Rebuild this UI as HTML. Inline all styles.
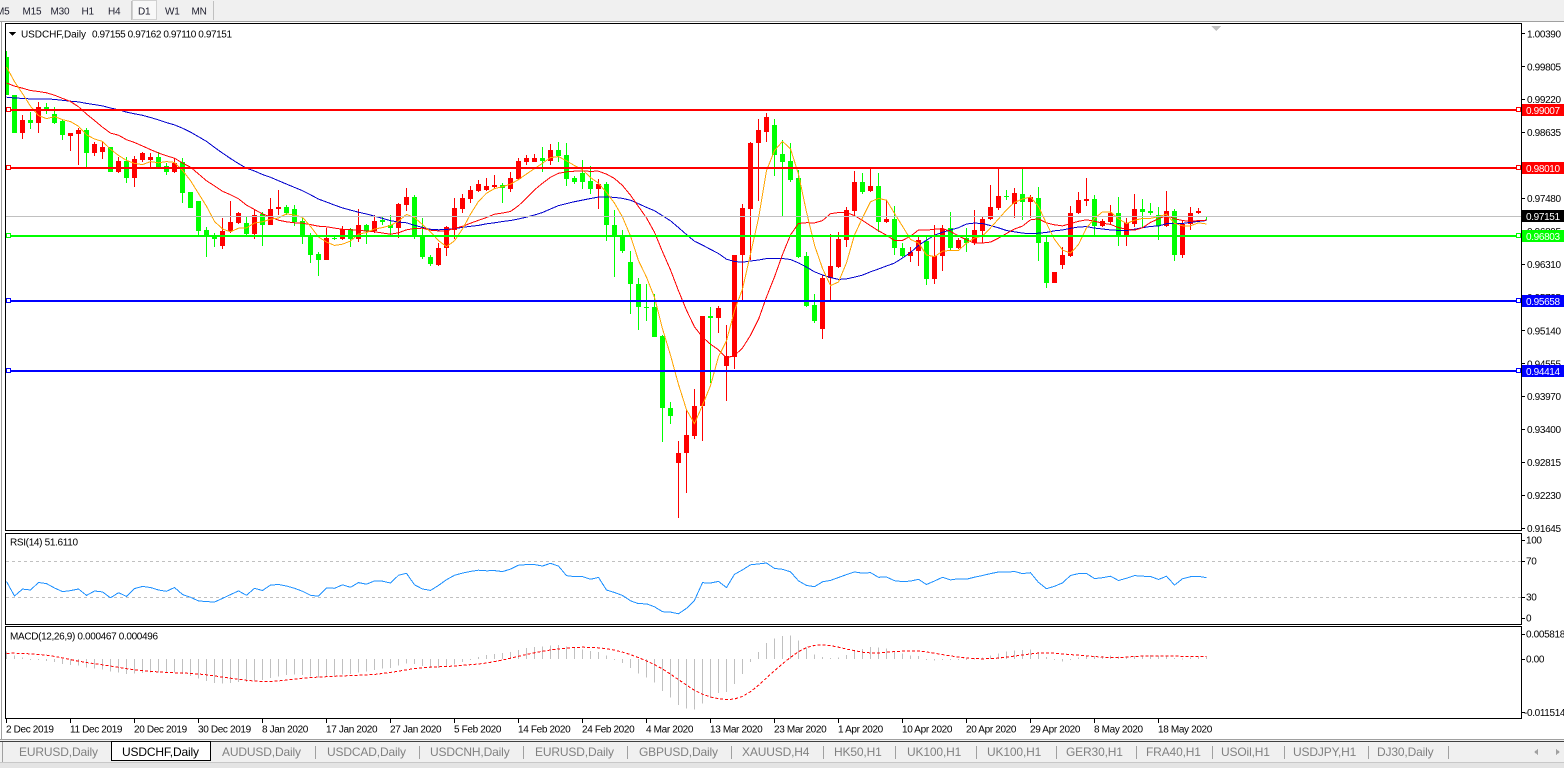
<!DOCTYPE html>
<html><head><meta charset="utf-8">
<style>
html,body{margin:0;padding:0;width:1564px;height:768px;overflow:hidden;background:#fff;}
svg{display:block}
text{font-family:"Liberation Sans",Arial,sans-serif;}
</style></head>
<body>
<svg id="s" width="1564" height="768" xmlns="http://www.w3.org/2000/svg" shape-rendering="crispEdges">
<defs>
<clipPath id="cm"><rect x="6" y="24" width="1515" height="507"/></clipPath>
<clipPath id="cr"><rect x="6" y="534" width="1515" height="90"/></clipPath>
<clipPath id="cd"><rect x="6" y="627" width="1515" height="91"/></clipPath>
</defs>
<rect x="0" y="0" width="1564" height="768" fill="#ffffff"/>
<!-- toolbar -->
<rect x="0" y="0" width="1564" height="21" fill="#f0f0f0"/>
<line x1="0" y1="21.5" x2="1564" y2="21.5" stroke="#a0a0a0"/>
<rect x="132.5" y="0.5" width="24" height="19" fill="#f8f8f8" stroke="#d0d0d0"/>
<line x1="131.5" y1="1" x2="131.5" y2="20" stroke="#c0c0c0"/>
<line x1="213.5" y1="1" x2="213.5" y2="20" stroke="#c0c0c0"/>
<g font-size="10" fill="#202030" letter-spacing="-0.2">
<text x="-4" y="14.5">M5</text>
<text x="22.5" y="14.5">M15</text>
<text x="50.5" y="14.5">M30</text>
<text x="81.5" y="14.5">H1</text>
<text x="108" y="14.5">H4</text>
<text x="138" y="14.5">D1</text>
<text x="165" y="14.5">W1</text>
<text x="191.5" y="14.5">MN</text>
</g>
<!-- left gray line -->
<line x1="1.5" y1="22" x2="1.5" y2="740" stroke="#a0a0a0"/>
<!-- panel frames -->
<rect x="5.5" y="23.5" width="1516" height="507" fill="#fff" stroke="#000"/>
<rect x="5.5" y="533.5" width="1516" height="91" fill="#fff" stroke="#000"/>
<rect x="5.5" y="626.5" width="1516" height="92" fill="#fff" stroke="#000"/>

<!-- RSI levels -->
<g stroke="#c0c0c0" stroke-dasharray="3,3">
<line x1="6" y1="561.5" x2="1521" y2="561.5"/>
<line x1="6" y1="597.5" x2="1521" y2="597.5"/>
</g>

<g id="dyn"></g>

<!-- shift marker -->
<polygon points="1211,26 1221,26 1216,31" fill="#c0c0c0"/>

<!-- header -->
<polygon points="9,32 16,32 12.5,36" fill="#000"/>
<text x="21" y="37.5" font-size="10" fill="#000" textLength="65" lengthAdjust="spacing">USDCHF,Daily</text>
<text x="92" y="37.5" font-size="10" fill="#000" textLength="140" lengthAdjust="spacing">0.97155 0.97162 0.97110 0.97151</text>
<text x="10" y="545.5" font-size="10" fill="#000" textLength="68" lengthAdjust="spacing">RSI(14) 51.6110</text>
<text x="10" y="639.5" font-size="10" fill="#000" textLength="148" lengthAdjust="spacing">MACD(12,26,9) 0.000467 0.000496</text>

<!-- price axis -->
<g stroke="#000">
<line x1="1521" y1="33.5" x2="1525" y2="33.5"/><line x1="1521" y1="66.5" x2="1525" y2="66.5"/>
<line x1="1521" y1="99.5" x2="1525" y2="99.5"/><line x1="1521" y1="132.5" x2="1525" y2="132.5"/>
<line x1="1521" y1="165.5" x2="1525" y2="165.5"/><line x1="1521" y1="198.5" x2="1525" y2="198.5"/>
<line x1="1521" y1="231.5" x2="1525" y2="231.5"/><line x1="1521" y1="264.5" x2="1525" y2="264.5"/>
<line x1="1521" y1="297.5" x2="1525" y2="297.5"/><line x1="1521" y1="330.5" x2="1525" y2="330.5"/>
<line x1="1521" y1="363.5" x2="1525" y2="363.5"/><line x1="1521" y1="396.5" x2="1525" y2="396.5"/>
<line x1="1521" y1="429.5" x2="1525" y2="429.5"/><line x1="1521" y1="462.5" x2="1525" y2="462.5"/>
<line x1="1521" y1="495.5" x2="1525" y2="495.5"/><line x1="1521" y1="528.5" x2="1525" y2="528.5"/>
<line x1="1521" y1="540.5" x2="1525" y2="540.5"/><line x1="1521" y1="561.5" x2="1525" y2="561.5"/>
<line x1="1521" y1="597.5" x2="1525" y2="597.5"/><line x1="1521" y1="618.5" x2="1525" y2="618.5"/>
<line x1="1521" y1="634.5" x2="1525" y2="634.5"/><line x1="1521" y1="659.5" x2="1525" y2="659.5"/>
<line x1="1521" y1="712.5" x2="1525" y2="712.5"/>
</g>
<g font-size="10" fill="#000" letter-spacing="-0.35">
<text x="1527" y="37.5">1.00390</text>
<text x="1527" y="70.5">0.99805</text>
<text x="1527" y="103">0.99220</text>
<text x="1527" y="136">0.98635</text>
<text x="1527" y="169.5">0.98050</text>
<text x="1527" y="202">0.97480</text>
<text x="1527" y="235">0.96895</text>
<text x="1527" y="268">0.96310</text>
<text x="1527" y="301">0.95725</text>
<text x="1527" y="334.5">0.95140</text>
<text x="1527" y="367.5">0.94555</text>
<text x="1527" y="400">0.93970</text>
<text x="1527" y="433">0.93400</text>
<text x="1527" y="466">0.92815</text>
<text x="1527" y="499">0.92230</text>
<text x="1527" y="532">0.91645</text>
<text x="1526" y="543.5">100</text>
<text x="1526" y="564.5">70</text>
<text x="1526" y="600.5">30</text>
<text x="1526" y="621.5">0</text>
<text x="1526" y="637.5">0.005818</text>
<text x="1526" y="662.5">0.00</text>
<text x="1524" y="716">-0.011514</text>
</g>

<!-- level lines -->
<g>
<rect x="6" y="109" width="1515" height="2" fill="#ff0000"/>
<rect x="6" y="167" width="1515" height="2" fill="#ff0000"/>
<rect x="6" y="235" width="1515" height="2" fill="#00ff00"/>
<rect x="6" y="300" width="1515" height="2" fill="#0000ff"/>
<rect x="6" y="370" width="1515" height="2" fill="#0000ff"/>
<line x1="6" y1="216.5" x2="1521" y2="216.5" stroke="#c0c0c0"/>
<g fill="#fff" stroke-width="1">
<rect x="6.5" y="107.5" width="4" height="4" stroke="#ff0000"/><rect x="1516.5" y="107.5" width="4" height="4" stroke="#ff0000"/>
<rect x="6.5" y="165.5" width="4" height="4" stroke="#ff0000"/><rect x="1516.5" y="165.5" width="4" height="4" stroke="#ff0000"/>
<rect x="6.5" y="233.5" width="4" height="4" stroke="#00ff00"/><rect x="1516.5" y="233.5" width="4" height="4" stroke="#00ff00"/>
<rect x="6.5" y="298.5" width="4" height="4" stroke="#0000ff"/><rect x="1516.5" y="298.5" width="4" height="4" stroke="#0000ff"/>
<rect x="6.5" y="368.5" width="4" height="4" stroke="#0000ff"/><rect x="1516.5" y="368.5" width="4" height="4" stroke="#0000ff"/>
</g>
</g>
<!-- price boxes -->
<rect x="1522" y="104" width="42" height="12" fill="#ff0000"/>
<rect x="1522" y="162" width="42" height="12" fill="#ff0000"/>
<rect x="1522" y="210" width="42" height="12" fill="#000000"/>
<rect x="1522" y="230" width="42" height="12" fill="#00ff00"/>
<rect x="1522" y="295" width="42" height="12" fill="#0000ff"/>
<rect x="1522" y="365" width="42" height="12" fill="#0000ff"/>
<g font-size="10" fill="#fff" letter-spacing="-0.35">
<text x="1526" y="114">0.99007</text>
<text x="1526" y="172">0.98010</text>
<text x="1526" y="220">0.97151</text>
<text x="1526" y="240">0.96803</text>
<text x="1526" y="305">0.95658</text>
<text x="1526" y="375">0.94414</text>
</g>

<!-- date axis -->
<g id="dates" font-size="10" fill="#000" letter-spacing="-0.35"></g>

<!-- tab bar -->
<rect x="0" y="739" width="1564" height="29" fill="#f0f0f0"/>
<line x1="0" y1="739.5" x2="1564" y2="739.5" stroke="#a0a0a0"/>
<line x1="0" y1="741.5" x2="1564" y2="741.5" stroke="#404040"/>
<rect x="0" y="762" width="1564" height="6" fill="#e4e4e4"/>
<line x1="0" y1="762.5" x2="1564" y2="762.5" stroke="#c8c8c8"/>
<line x1="2.5" y1="742" x2="2.5" y2="762" stroke="#a0a0a0"/>
<rect x="111.5" y="741.5" width="99" height="19" fill="#fff" stroke="#000"/>
<line x1="111" y1="760.5" x2="211" y2="760.5" stroke="#000"/>
<g stroke="#a0a0a0">
<line x1="315.5" y1="746" x2="315.5" y2="759"/><line x1="419.5" y1="746" x2="419.5" y2="759"/>
<line x1="523.5" y1="746" x2="523.5" y2="759"/><line x1="627.5" y1="746" x2="627.5" y2="759"/>
<line x1="731.5" y1="746" x2="731.5" y2="759"/><line x1="823.5" y1="746" x2="823.5" y2="759"/>
<line x1="895.5" y1="746" x2="895.5" y2="759"/><line x1="976.5" y1="746" x2="976.5" y2="759"/>
<line x1="1056.5" y1="746" x2="1056.5" y2="759"/><line x1="1136.5" y1="746" x2="1136.5" y2="759"/>
<line x1="1212.5" y1="746" x2="1212.5" y2="759"/><line x1="1284.5" y1="746" x2="1284.5" y2="759"/>
<line x1="1368.5" y1="746" x2="1368.5" y2="759"/><line x1="1448.5" y1="746" x2="1448.5" y2="759"/>
</g>
<g font-size="12" fill="#808080" letter-spacing="-0.15">
<text x="19" y="756">EURUSD,Daily</text>
<text x="122" y="756" fill="#000">USDCHF,Daily</text>
<text x="222" y="756">AUDUSD,Daily</text>
<text x="327" y="756">USDCAD,Daily</text>
<text x="430" y="756">USDCNH,Daily</text>
<text x="535" y="756">EURUSD,Daily</text>
<text x="639" y="756">GBPUSD,Daily</text>
<text x="742" y="756">XAUUSD,H4</text>
<text x="834" y="756">HK50,H1</text>
<text x="907" y="756">UK100,H1</text>
<text x="987" y="756">UK100,H1</text>
<text x="1066" y="756">GER30,H1</text>
<text x="1146" y="756">FRA40,H1</text>
<text x="1221" y="756">USOil,H1</text>
<text x="1293" y="756">USDJPY,H1</text>
<text x="1377" y="756">DJ30,Daily</text>
</g>
<polygon points="1534,752 1538,749 1538,755" fill="#a0a0a0"/>
<polygon points="1556,749 1560,752 1556,755" fill="#a0a0a0"/>
</svg>
<script>
const D=[
[0,57,95,51,95],[0,95,133,95,133],[1,120,133,115,139],[0,120,123,112,129],[1,107,123,102,133],
[0,107,110,103,114],[0,114,123,107,124],[0,121,135,120,140],[1,133,136,133,151],[1,130,134,128,165],
[0,130,153,128,167],[1,144,153,142,156],[1,147,152,142,159],[0,147,172,147,172],[1,161,172,157,173],
[0,161,178,157,183],[1,159,178,156,187],[1,153,160,152,162],[1,157,160,153,167],[0,157,167,152,168],
[0,166,172,163,175],[1,163,172,158,173],[0,162,193,158,203],[0,192,208,192,208],[0,201,231,201,235],
[0,230,236,227,257],[0,235,239,233,247],[1,231,246,218,249],[1,222,231,201,233],[1,213,223,212,224],
[0,223,234,216,235],[1,215,234,210,239],[0,214,225,212,246],[1,209,225,198,225],[1,207,209,190,215],
[0,207,213,205,215],[0,209,222,205,226],[0,221,235,218,244],[0,235,255,233,263],[0,254,260,252,276],
[1,238,260,228,260],[0,238,239,236,240],[1,229,239,226,240],[0,229,239,228,247],[1,225,239,209,242],
[0,225,231,224,244],[1,221,231,215,233],[0,220,222,216,225],[0,225,228,215,236],[1,204,228,203,238],
[1,197,205,188,211],[0,197,237,195,239],[0,235,257,218,259],[0,257,264,255,266],[1,248,265,243,266],
[1,227,248,226,256],[1,208,230,198,239],[1,198,209,194,213],[1,190,199,186,203],[1,184,191,180,192],
[1,186,190,178,191],[1,185,187,175,189],[0,185,188,183,203],[1,178,189,172,192],[1,161,179,158,180],
[1,158,162,155,165],[1,158,162,154,162],[0,158,161,147,172],[1,150,161,144,165],[0,150,156,142,162],
[0,155,179,143,186],[0,178,182,176,184],[0,173,182,160,189],[0,181,189,166,194],[1,184,189,179,209],
[0,184,225,182,241],[0,225,236,210,277],[0,235,251,230,253],[0,262,284,251,314],[0,284,307,278,330],
[0,307,308,284,321],[0,307,337,294,337],[0,336,408,335,442],[0,408,416,402,424],[1,453,463,441,518],
[1,435,453,410,493],[1,406,436,389,439],[1,316,406,316,441],[0,316,318,307,383],[1,308,318,306,333],
[1,356,366,325,401],[1,255,357,255,369],[1,208,255,204,301],[1,143,209,142,260],[1,130,143,119,201],
[1,117,132,113,142],[0,125,155,119,176],[0,154,162,140,216],[0,161,180,143,182],[0,178,257,170,258],
[0,256,306,252,307],[0,305,321,294,323],[1,278,329,275,339],[1,266,278,234,300],[1,239,267,232,268],
[1,210,240,207,247],[1,182,211,171,215],[0,182,192,173,194],[1,186,191,169,192],[0,186,222,173,232],
[1,219,222,200,223],[0,219,248,206,255],[0,248,256,243,257],[1,252,256,247,262],[1,240,251,237,266],
[0,241,279,235,285],[1,256,279,225,284],[1,229,256,225,271],[0,228,248,212,250],[1,240,248,238,249],
[0,238,243,228,252],[1,230,243,210,245],[1,219,231,216,243],[1,207,219,185,220],[1,196,208,168,210],
[0,196,197,190,200],[1,193,204,188,218],[0,194,202,168,220],[1,197,202,195,218],[0,198,243,187,261],
[0,242,283,236,288],[1,272,283,272,283],[1,255,265,247,269],[1,213,256,206,257],[1,200,213,192,214],
[1,199,201,178,206],[0,199,226,195,235],[1,221,226,219,227],[1,213,222,205,224],[0,213,235,197,246],
[1,223,235,218,246],[1,209,224,194,227],[0,209,212,199,227],[0,211,213,203,215],[0,215,226,207,240],
[1,211,226,191,227],[0,211,255,209,261],[1,224,255,220,258],[1,213,224,207,230],[1,211,213,208,214],
[0,216,217,216,220]];
const N=D.length;
const X=k=>6.5+8*k;
const C=D.map(d=>d[0]?d[1]:d[2]);
const pre=[];
for(let i=0;i<17;i++)pre.push(108);
for(let i=0;i<8;i++)pre.push(93);
for(let i=0;i<4;i++)pre.push(60);
const P=pre.length;
const all=pre.concat(C);
function sma(n){const r=[];for(let k=0;k<N;k++){let s=0;for(let j=0;j<n;j++)s+=all[P+k-j];r.push(s/n);}return r;}
function pl(arr,col,extra){return '<polyline fill="none" stroke="'+col+'" stroke-width="1" '+(extra||'')+' points="'+arr.map((v,k)=>X(k)+','+v.toFixed(1)).join(' ')+'"/>';}
let s='<g clip-path="url(#cm)">';
for(let k=0;k<N;k++){
  const [t,bt,bb,wt,wb]=D[k];const col=t?'#ff0000':'#00ff00';
  s+='<rect x="'+(6+8*k)+'" y="'+wt+'" width="1" height="'+Math.max(1,wb-wt)+'" fill="'+col+'"/>';
  s+='<rect x="'+(4+8*k)+'" y="'+bt+'" width="5" height="'+Math.max(1,bb-bt)+'" fill="'+col+'"/>';
}
s+=pl(sma(30),'#0000cd');
s+=pl(sma(13),'#ff0000');
s+=pl(sma(5),'#ffa500');
s+='</g>';
// RSI
let ag=4,al=4;const rsiAll=[];
for(let i=0;i<all.length;i++){
  if(i>0){const ch=all[i-1]-all[i];const g=Math.max(ch,0),l=Math.max(-ch,0);ag=(ag*13+g)/14;al=(al*13+l)/14;}
  rsiAll.push(100*ag/(ag+al));
}
const rsi=rsiAll.slice(P).map(v=>624-v*0.9);
s+='<g clip-path="url(#cr)">'+pl(rsi,'#1e90ff')+'</g>';
// MACD
let e12=all[0],e26=all[0];const m=[];
for(let i=0;i<all.length;i++){e12+=2/13*(all[i]-e12);e26+=2/27*(all[i]-e26);m.push((e12-e26)*0.83);}
const sig=[];for(let i=0;i<all.length;i++){let c=0,t=0;for(let j=0;j<9&&i-j>=0;j++){t+=m[i-j];c++;}sig.push(t/c);}
s+='<g clip-path="url(#cd)">';
for(let k=0;k<N;k++){const v=659+m[P+k];const y1=Math.min(659,v),y2=Math.max(659,v);
  s+='<rect x="'+(6+8*k)+'" y="'+y1.toFixed(1)+'" width="1" height="'+Math.max(1,y2-y1).toFixed(1)+'" fill="#c0c0c0"/>';}
s+=pl(sig.slice(P).map(v=>659+v),'#ff0000','stroke-dasharray="3,2"');
s+='</g>';
document.getElementById('dyn').innerHTML=s;
// dates
const labs=['2 Dec 2019','11 Dec 2019','20 Dec 2019','30 Dec 2019','8 Jan 2020','17 Jan 2020','27 Jan 2020','5 Feb 2020','14 Feb 2020','24 Feb 2020','4 Mar 2020','13 Mar 2020','23 Mar 2020','1 Apr 2020','10 Apr 2020','20 Apr 2020','29 Apr 2020','8 May 2020','18 May 2020'];
let d='';
labs.forEach((t,i)=>{const x=6+64*i;d+='<line x1="'+(x+0.5)+'" y1="719" x2="'+(x+0.5)+'" y2="723" stroke="#000"/><text x="'+x+'" y="732.5">'+t+'</text>';});
document.getElementById('dates').innerHTML=d;
</script>
</body></html>
